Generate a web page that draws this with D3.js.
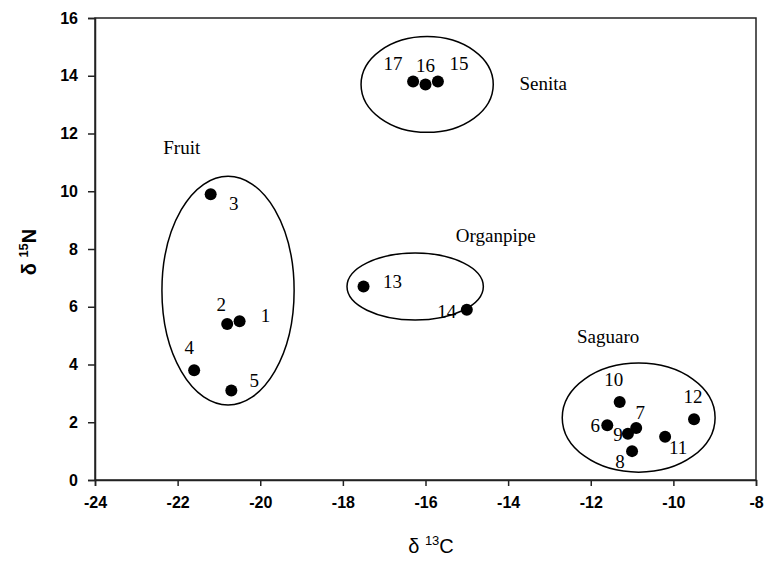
<!DOCTYPE html>
<html>
<head>
<meta charset="utf-8">
<script src="https://cdn.jsdelivr.net/npm/d3@7"></script>
<style>
  body { margin: 0; background: #fff; }
  .axis text { font-family: "Liberation Sans", Arial, sans-serif; font-weight: bold; font-size: 16px; fill: #000; }
  .axis path, .axis line { stroke: #222; stroke-width: 1.5px; }
  .lbl { font-family: "Liberation Serif", "Times New Roman", serif; font-size: 19px; fill: #000; }
</style>
</head>
<body>
<svg id="chart"></svg>
<script>
// samples
const ids = [1, 2, 3, 4, 5, 6, 7, 8, 9, 10, 11, 12, 13, 14, 15, 16, 17];
const d13C = [-20.5, -20.8, -21.2, -21.6, -20.7, -11.6, -10.9, -11.0, -11.1, -11.3, -10.2, -9.5, -17.5, -15.0, -15.7, -16.0, -16.3];
const d15N = [5.5, 5.4, 9.9, 3.8, 3.1, 1.9, 1.8, 1.0, 1.6, 2.7, 1.5, 2.1, 6.7, 5.9, 13.8, 13.7, 13.8];

// groups (ellipse centre and half-widths in data units)
const groups = ["Fruit", "Senita", "Organpipe", "Saguaro"];
const groupCx = [-20.78, -15.96, -16.25, -10.84];
const groupCy = [6.56, 13.7, 6.7, 2.16];
const groupRx = [1.6, 1.6, 1.65, 1.85];
const groupRy = [3.96, 1.66, 1.16, 1.89];
const groupLabelX = [-21.9, -13.15, -14.3, -11.58];
const groupLabelY = [11.5, 13.74, 8.48, 4.98];

const xTicks = [-24, -22, -20, -18, -16, -14, -12, -10, -8];
const yTicks = [0, 2, 4, 6, 8, 10, 12, 14, 16];

// label offsets from each dot, px
const labelDx = [26, -6, 23, -5, 23, -12, 4, -12, -10, -6, 13, -1, 29, -20, 21, 0, -20];
const labelDy = [-6, -20, 9, -23, -10, 0, -16, 10, 1, -23, 11, -23, -5, 2, -18, -19, -18];

const w = 766, h = 573;
const mLeft = 95, mRight = 756, mTop = 18, mBottom = 480;

const svg = d3.select("#chart").attr("width", w).attr("height", h);

const x = d3.scaleLinear().domain([-24, -8]).range([mLeft, mRight]);
const y = d3.scaleLinear().domain([0, 16]).range([mBottom, mTop]);

// frame
svg.append("rect")
  .attr("x", mLeft).attr("y", mTop)
  .attr("width", mRight - mLeft).attr("height", mBottom - mTop)
  .attr("fill", "none").attr("stroke", "#222").attr("stroke-width", 1.5);

svg.append("g")
  .attr("class", "axis")
  .attr("transform", `translate(0, ${mBottom})`)
  .call(d3.axisBottom(x).tickValues(xTicks).tickSize(6).tickPadding(11).tickFormat((d) => String(d)));

svg.append("g")
  .attr("class", "axis")
  .attr("transform", `translate(${mLeft}, 0)`)
  .call(d3.axisLeft(y).tickValues(yTicks).tickSize(7).tickPadding(10).tickFormat((d) => String(d)));

// ellipses
svg.selectAll(".grp")
  .data(groups)
  .enter()
  .append("ellipse")
  .attr("class", "grp")
  .attr("cx", (d, i) => x(groupCx[i]))
  .attr("cy", (d, i) => y(groupCy[i]))
  .attr("rx", (d, i) => x(groupCx[i] + groupRx[i]) - x(groupCx[i]))
  .attr("ry", (d, i) => y(groupCy[i]) - y(groupCy[i] + groupRy[i]))
  .attr("fill", "none")
  .attr("stroke", "#000")
  .attr("stroke-width", 1.5);

svg.selectAll(".grp-lbl")
  .data(groups)
  .enter()
  .append("text")
  .attr("class", "lbl grp-lbl")
  .attr("x", (d, i) => x(groupLabelX[i]))
  .attr("y", (d, i) => y(groupLabelY[i]))
  .attr("text-anchor", "middle")
  .attr("dominant-baseline", "central")
  .text((d) => d);

// dots
svg.selectAll(".dot")
  .data(ids)
  .enter()
  .append("circle")
  .attr("class", "dot")
  .attr("cx", (d, i) => x(d13C[i]))
  .attr("cy", (d, i) => y(d15N[i]))
  .attr("r", 6)
  .attr("fill", "#000");

svg.selectAll(".id-lbl")
  .data(ids)
  .enter()
  .append("text")
  .attr("class", "lbl id-lbl")
  .attr("x", (d, i) => x(d13C[i]) + labelDx[i])
  .attr("y", (d, i) => y(d15N[i]) + labelDy[i])
  .attr("text-anchor", "middle")
  .attr("dominant-baseline", "central")
  .text((d) => d);

// axis titles
const xt = svg.append("text")
  .attr("x", 431).attr("y", 553)
  .attr("text-anchor", "middle")
  .style("font-family", "'Liberation Sans', Arial, sans-serif")
  .style("font-size", "20px");
xt.append("tspan").text("δ ");
xt.append("tspan").attr("dy", -8).style("font-size", "13px").text("13");
xt.append("tspan").attr("dy", 8).text("C");

const yt = svg.append("text")
  .attr("transform", "translate(36, 252) rotate(-90)")
  .attr("text-anchor", "middle")
  .style("font-family", "'Liberation Sans', Arial, sans-serif")
  .style("font-weight", "bold")
  .style("font-size", "20px");
yt.append("tspan").text("δ ");
yt.append("tspan").attr("dy", -8).style("font-size", "13px").text("15");
yt.append("tspan").attr("dy", 8).text("N");
</script>
</body>
</html>
